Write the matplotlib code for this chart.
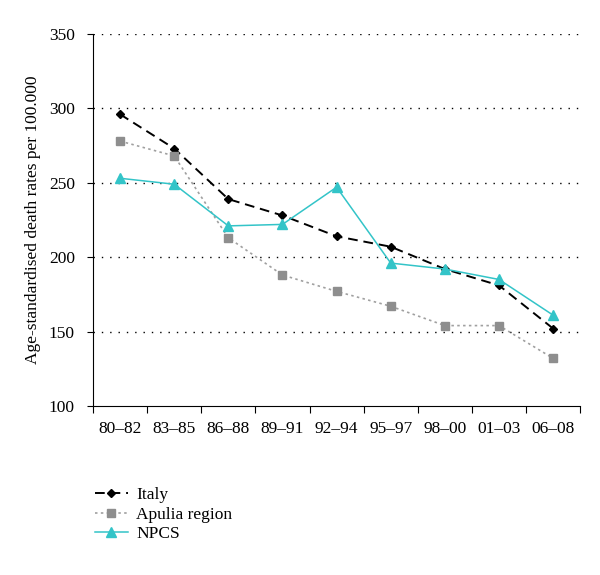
import matplotlib
matplotlib.use("Agg")
import matplotlib.pyplot as plt
import numpy as np

periods = ["80\u201382", "83\u201385", "86\u201388", "89\u201391", "92\u201394",
           "95\u201397", "98\u201300", "01\u201303", "06\u201308"]
italy = [296, 273, 239, 228, 214, 207, 192, 181, 152]
apulia = [278, 268, 213, 188, 177, 167, 154, 154, 132]
npcs = [253, 249, 221, 222, 247, 196, 192, 185, 161]

plt.rcParams['font.family'] = ['Liberation Serif', 'DejaVu Serif']

fig = plt.figure(figsize=(6, 5.75), dpi=100)
ax = fig.add_axes([0.155, 0.294, 0.812, 0.647])

x = np.arange(len(periods))

ax.plot(x, italy, color='black', linestyle=(0, (5, 3)), linewidth=1.4,
        marker='D', markersize=4.2, label='Italy')
ax.plot(x, apulia, color='#a0a0a0', linestyle=(0, (1.5, 2)), linewidth=1.2,
        marker='s', markersize=6, markerfacecolor='#8e8e8e',
        markeredgecolor='#8e8e8e', label='Apulia region')
ax.plot(x, npcs, color='#33c4c8', linestyle='-', linewidth=1.1,
        marker='^', markersize=6.5, label='NPCS')

ax.set_ylim(100, 350)
ax.set_xlim(-0.5, len(periods) - 0.5)
ax.set_yticks([100, 150, 200, 250, 300, 350])
ax.tick_params(axis='y', labelsize=12.5, direction='out', length=4, pad=9)
ax.set_xticks(np.arange(-0.5, len(periods), 1.0))
ax.set_xticklabels([])
ax.set_xticks(x, minor=True)
ax.set_xticklabels(periods, minor=True, fontsize=12.5)
ax.tick_params(axis='x', which='major', direction='out', length=5)
ax.tick_params(axis='x', which='minor', length=0, pad=11)

for v in [150, 200, 250, 300, 350]:
    ax.axhline(v, color='black', linestyle=(0, (1, 5)), linewidth=1.0, zorder=0)

ax.spines['top'].set_visible(False)
ax.spines['right'].set_visible(False)
ax.set_ylabel('Age-standardised death rates per 100.000', fontsize=12.5, labelpad=6)

fig.legend(loc='upper left', bbox_to_anchor=(0.158, 0.153), frameon=False,
           fontsize=12.5, handlelength=1.9, labelspacing=0.2, handletextpad=0.5,
           borderpad=0, borderaxespad=0)

fig.savefig('out.png', dpi=100)
